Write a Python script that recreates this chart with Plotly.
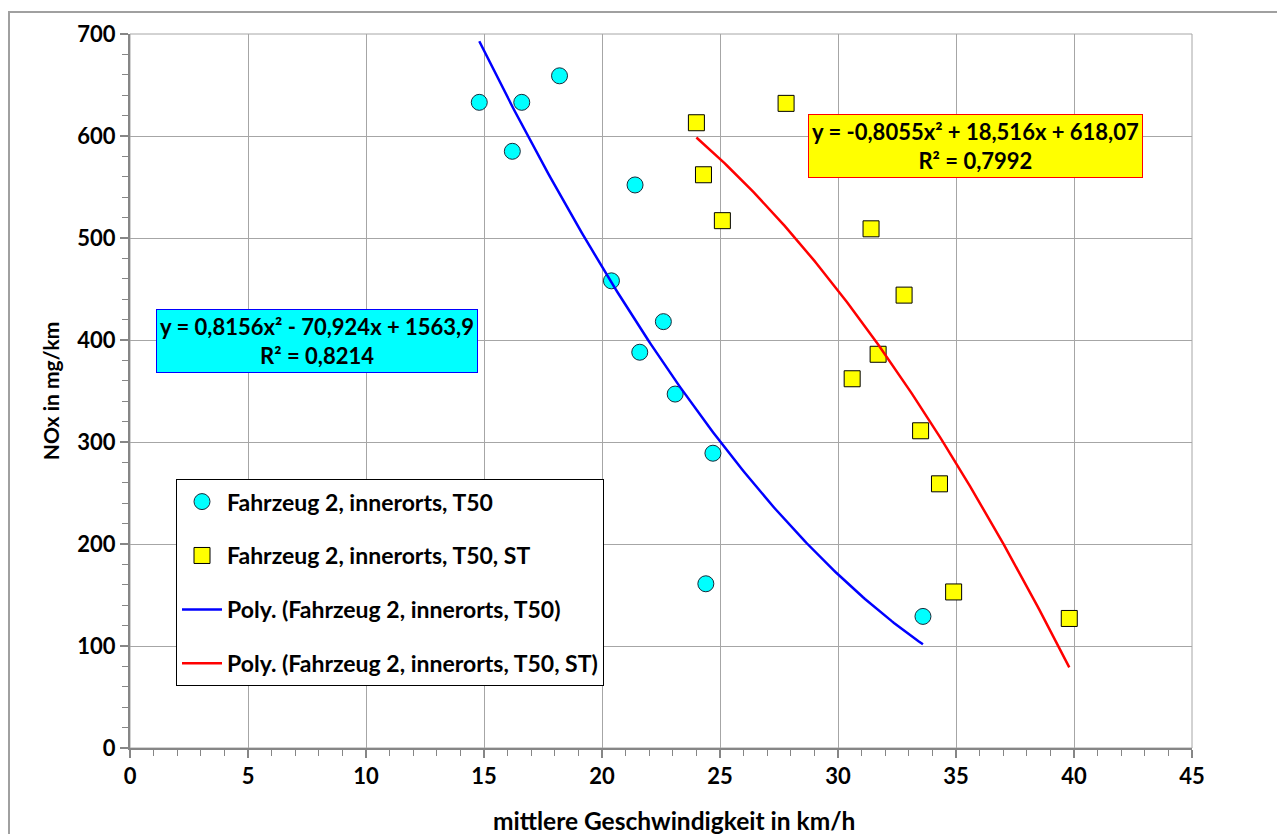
import numpy as np
import plotly.graph_objects as go

# Data
s1_name = "Fahrzeug 2, innerorts, T50"
s1_x = [14.8, 16.2, 16.6, 18.2, 21.4, 20.4, 21.6, 22.6, 23.1, 24.7, 24.4, 33.6]
s1_y = [633, 585, 633, 659, 552, 458, 388, 418, 347, 289, 161, 129]

s2_name = "Fahrzeug 2, innerorts, T50, ST"
s2_x = [24.0, 24.3, 25.1, 27.8, 31.4, 32.8, 31.7, 30.6, 33.5, 34.3, 34.9, 39.8]
s2_y = [613, 562, 517, 632, 509, 444, 386, 362, 311, 259, 153, 127]

# Polynomial trend line coefficients (as printed on the chart)
t1_coef = [0.8156, -70.924, 1563.9]
t2_coef = [-0.8055, 18.516, 618.07]
t1_label = "y = 0,8156x² - 70,924x + 1563,9<br>R² = 0,8214"
t2_label = "y = -0,8055x² + 18,516x + 618,07<br>R² = 0,7992"

x_title = "mittlere Geschwindigkeit in km/h"
y_title = "NOx in mg/km"
x_ticks = [0, 5, 10, 15, 20, 25, 30, 35, 40, 45]
y_ticks = [0, 100, 200, 300, 400, 500, 600, 700]

FONT = "Lato"
BOLD = dict(family=FONT, color="black", weight="bold")

t1_x = np.linspace(min(s1_x), max(s1_x), 200)
t1_y = np.polyval(t1_coef, t1_x)
t2_x = np.linspace(min(s2_x), max(s2_x), 200)
t2_y = np.polyval(t2_coef, t2_x)

fig = go.Figure()
fig.add_trace(go.Scatter(
    x=s1_x, y=s1_y, mode="markers", name=s1_name, legendgroup="a",
    marker=dict(symbol="circle", size=16, color="#00FFFF",
                line=dict(color="#1a2a3a", width=1)),
))
fig.add_trace(go.Scatter(
    x=s2_x, y=s2_y, mode="markers", name=s2_name, legendgroup="b",
    marker=dict(symbol="square", size=16, color="#FFFF00",
                line=dict(color="black", width=1)),
))
fig.add_trace(go.Scatter(
    x=t1_x, y=t1_y, mode="lines", name="Poly. (" + s1_name + ")", legendgroup="c",
    line=dict(color="#0000FF", width=2.5),
))
fig.add_trace(go.Scatter(
    x=t2_x, y=t2_y, mode="lines", name="Poly. (" + s2_name + ")", legendgroup="d",
    line=dict(color="#FF0000", width=2.5),
))

axis_common = dict(
    showgrid=True, gridcolor="#A6A6A6", gridwidth=1,
    showline=True, linecolor="#868686", linewidth=2,
    ticks="outside", ticklen=8, tickcolor="#868686", tickwidth=2,
    zeroline=False, tickfont=dict(size=22, **BOLD),
)

fig.update_xaxes(
    range=[0, 45], tickvals=x_ticks, ticktext=[str(v) for v in x_ticks],
    minor=dict(dtick=1, ticks="outside", ticklen=6, tickcolor="#868686", tickwidth=1, showgrid=False),
    **axis_common,
)
fig.update_yaxes(
    range=[0, 700], tickvals=y_ticks, ticktext=[str(v) for v in y_ticks],
    minor=dict(dtick=20, ticks="outside", ticklen=6, tickcolor="#868686", tickwidth=1, showgrid=False),
    title=dict(text=y_title, font=dict(size=21, **BOLD), standoff=12),
    **axis_common,
)

# x-axis title (offset to the right of the plot centre as in the reference)
fig.add_annotation(
    x=544 / 1062, y=-73 / 717, xref="paper", yref="paper", text=x_title,
    showarrow=False, xanchor="center", yanchor="middle",
    font=dict(size=24.5, **BOLD),
)

fig.add_annotation(
    x=7.94, y=399, xref="x", yref="y", text=t1_label, showarrow=False,
    font=dict(size=22, **BOLD), align="center",
    bgcolor="#00FFFF", bordercolor="#0000FF", borderwidth=1, borderpad=3,
)
fig.add_annotation(
    x=35.83, y=590, xref="x", yref="y", text=t2_label, showarrow=False,
    font=dict(size=22, **BOLD), align="center",
    bgcolor="#FFFF00", bordercolor="#FF0000", borderwidth=1, borderpad=3,
)

# plot-area frame (top/right in grid colour) and outer chart frame
fig.add_shape(type="rect", xref="paper", yref="paper", x0=0, x1=1, y0=0, y1=1,
              line=dict(color="#A6A6A6", width=1), layer="below")
fig.add_shape(type="rect", xref="paper", yref="paper",
              x0=-121 / 1062, x1=1154 / 1062, y0=-100 / 717, y1=739 / 717,
              line=dict(color="#A0A0A0", width=2), layer="below")

fig.update_layout(
    width=1285, height=834,
    margin=dict(l=122, r=101, t=23, b=94),
    paper_bgcolor="white", plot_bgcolor="white",
    showlegend=True,
    legend=dict(
        x=46 / 1062, y=270 / 717, xanchor="left", yanchor="top",
        bgcolor="white", bordercolor="black", borderwidth=1,
        font=dict(size=23, **BOLD), tracegroupgap=21,
        itemwidth=40,
    ),
    font=dict(family=FONT),
)

fig.write_html("out.html")
